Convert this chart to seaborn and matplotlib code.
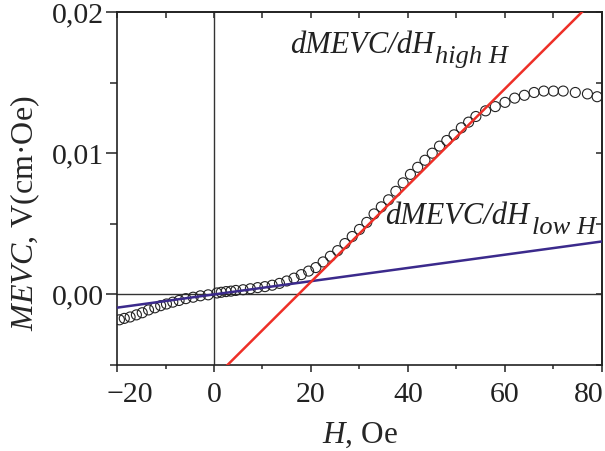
import matplotlib
matplotlib.use("Agg")
import matplotlib.pyplot as plt
import matplotlib.transforms as mtransforms
import seaborn as sns
import numpy as np
from matplotlib.ticker import MultipleLocator, FuncFormatter

H = [-19.5, -18.5, -17.3, -16.0, -14.8, -13.5, -12.2, -11.0, -9.8, -8.5,
     -7.2, -5.8, -4.3, -2.8, -1.2, 0.6, 1.5, 2.5, 3.5, 4.5,
     6.0, 7.5, 9.0, 10.5, 12.0, 13.5, 15.0, 16.5, 18.0, 19.5,
     21.0, 22.5, 24.0, 25.5, 27.0, 28.5, 30.0, 31.5, 33.0, 34.5,
     36.0, 37.5, 39.0, 40.5, 42.0, 43.5, 45.0, 46.5, 48.0, 49.5,
     51.0, 52.5, 54.0, 56.0, 58.0, 60.0, 62.0, 64.0, 66.0, 68.0,
     70.0, 72.0, 74.5, 77.0, 79.0]
MEVC = [-0.0018, -0.0017, -0.0016, -0.00145, -0.0013, -0.0011, -0.00095, -0.0008, -0.00068, -0.00055,
        -0.00043, -0.0003, -0.0002, -0.0001, -0.00003, 0.0001, 0.00015, 0.0002, 0.00023, 0.00028,
        0.00033, 0.0004, 0.00048, 0.00055, 0.00065, 0.00078, 0.00095, 0.00115, 0.0014, 0.00165,
        0.0019, 0.0023, 0.0027, 0.0031, 0.0036, 0.0041, 0.0046, 0.0051, 0.0057, 0.0062,
        0.0067, 0.0073, 0.0079, 0.0085, 0.0090, 0.0095, 0.0100, 0.0105, 0.0109, 0.0113,
        0.0118, 0.0122, 0.0126, 0.0130, 0.0133, 0.0136, 0.0139, 0.0141, 0.0143, 0.0144,
        0.0144, 0.0144, 0.0143, 0.0142, 0.0140]

# linear fits (end points)
low_H = [-20, 80]
low_M = [-0.00094, 0.00375]
high_H = [0, 80]
high_M = [-0.00595, 0.02141]

x_ticks = [-20, 0, 20, 40, 60, 80]
y_ticks = [0.0, 0.01, 0.02]

sns.set_theme(style="ticks")
plt.rcParams["font.family"] = ["Liberation Serif", "DejaVu Serif"]
plt.rcParams["mathtext.fontset"] = "custom"
plt.rcParams["mathtext.rm"] = "Liberation Serif"
plt.rcParams["mathtext.it"] = "Liberation Serif:italic"

fig = plt.figure(figsize=(6.05, 4.51), dpi=100)
ax = fig.add_axes([0.1934, 0.1907, 0.8016, 0.7827])

ax.axhline(0, color="#333333", lw=1.0, zorder=1)
ax.axvline(0, color="#333333", lw=1.0, zorder=1)

sns.scatterplot(x=H, y=MEVC, ax=ax, marker="o", s=52, facecolors="none",
                edgecolor="#222222", linewidth=0.8, zorder=3)
sns.lineplot(x=low_H, y=low_M, ax=ax, color="#3b2a8c", lw=1.8, zorder=4)
sns.lineplot(x=high_H, y=high_M, ax=ax, color="#ee2f27", lw=1.8, zorder=4)

ax.set_xlim(-20, 80)
ax.set_ylim(-0.005, 0.02)
ax.set_xticks(x_ticks)
ax.set_yticks(y_ticks)
ax.xaxis.set_minor_locator(MultipleLocator(10))
ax.yaxis.set_minor_locator(MultipleLocator(0.005))
ax.yaxis.set_major_formatter(FuncFormatter(lambda v, p: f"{v:.2f}".replace(".", ",")))
ax.tick_params(axis="x", which="major", direction="out", length=5, width=1.1, labelsize=21.5, pad=7.5, colors="#222222")
ax.tick_params(axis="x", which="minor", direction="out", length=3, width=1.1)
ax.tick_params(axis="y", which="major", direction="out", length=8, width=1.1, labelsize=21.5, pad=1.5, colors="#222222")
ax.tick_params(axis="y", which="minor", direction="out", length=5, width=1.1)
for sp in ax.spines.values():
    sp.set_linewidth(1.2)
    sp.set_color("#222222")

# end labels of the x axis sit inside the frame
labels = ax.get_xticklabels()
labels[0].set_transform(labels[0].get_transform() + mtransforms.ScaledTranslation(13 / 100, 0, fig.dpi_scale_trans))
labels[-1].set_transform(labels[-1].get_transform() + mtransforms.ScaledTranslation(-13 / 100, 0, fig.dpi_scale_trans))

# inward ticks on top and right
top = ax.secondary_xaxis("top")
top.xaxis.set_major_locator(MultipleLocator(10))
top.tick_params(direction="in", length=4, width=1.1, labeltop=False)
right = ax.secondary_yaxis("right")
right.yaxis.set_major_locator(MultipleLocator(0.005))
right.tick_params(direction="in", length=4, width=1.1, labelright=False)

ax.set_xlabel(r"$H$, Oe", fontsize=22.5, labelpad=9)
ax.set_ylabel(r"$MEVC$, V(cm·Oe)", fontsize=23)
ax.yaxis.set_label_coords(-0.155, 0.43)

t1 = ax.text(15.6, 0.0171, "dMEVC/dH", fontsize=22, style="italic", color="#222222")
ax.annotate("high H", xy=(1, 0), xycoords=t1, xytext=(1, -2), textcoords="offset points",
            fontsize=19, style="italic", color="#222222", va="baseline")
t2 = ax.text(35.3, 0.0050, "dMEVC/dH", fontsize=22, style="italic", color="#222222")
ax.annotate("low H", xy=(1, 0), xycoords=t2, xytext=(2, -2), textcoords="offset points",
            fontsize=19, style="italic", color="#222222", va="baseline")

fig.savefig("out.png", dpi=100)
